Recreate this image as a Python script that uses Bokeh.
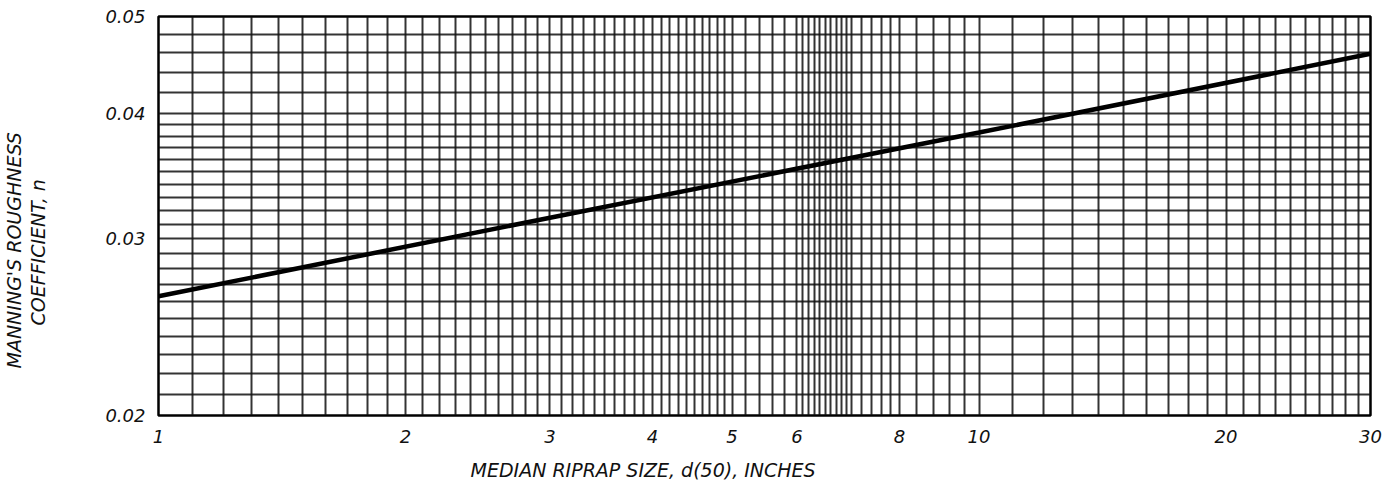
import numpy as np
from bokeh.plotting import figure
from bokeh.models import FixedTicker, Grid, Title, PrintfTickFormatter
from bokeh.embed import file_html
from bokeh.resources import INLINE

# ---- data ----
d50_in = [1, 3, 10, 30]
manning_n = [0.0263, 0.0315, 0.0383, 0.0459]

x_tick_labels = [1, 2, 3, 4, 5, 6, 8, 10, 20, 30]
y_tick_labels = [0.02, 0.03, 0.04, 0.05]

# graph-paper rulings
x_grid = sorted(set(
    list(np.round(np.arange(1.0, 5.0001, 0.1), 2))
    + list(np.round(np.arange(5.0, 6.0001, 0.2), 2))
    + list(np.round(np.arange(6.0, 7.0001, 0.1), 2))
    + list(np.round(np.arange(7.0, 8.0001, 0.2), 2))
    + list(np.round(np.arange(8.0, 10.0001, 0.4), 2))
    + list(np.arange(10, 31, 1).astype(float))
))
y_grid = sorted(set(
    list(np.round(np.arange(0.020, 0.0400001, 0.001), 4))
    + list(np.round(np.arange(0.040, 0.0500001, 0.002), 4))
))

FONT = "DejaVu Sans"
INK = "#111111"

p = figure(width=1395, height=480, x_axis_type="log", y_axis_type="log",
           x_range=(1, 30), y_range=(0.02, 0.05),
           output_backend="svg", toolbar_location=None,
           min_border_left=157, min_border_right=25,
           min_border_top=16, min_border_bottom=65)
p.background_fill_color = "white"
p.border_fill_color = "white"
p.outline_line_color = "black"
p.outline_line_width = 2.5

p.xgrid.visible = False
p.ygrid.visible = False
gx = Grid(dimension=0, ticker=FixedTicker(ticks=x_grid),
          grid_line_color=INK, grid_line_width=2.0, grid_line_alpha=0.85)
gy = Grid(dimension=1, ticker=FixedTicker(ticks=y_grid),
          grid_line_color=INK, grid_line_width=2.0, grid_line_alpha=0.85)
p.add_layout(gx)
p.add_layout(gy)

for ax in (p.xaxis[0], p.yaxis[0]):
    ax.axis_line_color = None
    ax.major_tick_line_color = None
    ax.minor_tick_line_color = None
    ax.major_label_text_font = FONT
    ax.major_label_text_font_style = "italic"
    ax.major_label_text_font_size = "18px"
    ax.major_label_text_color = INK
    # blank spacer label to push the titles outward
    ax.axis_label = " "
    ax.axis_label_text_font_size = "1px"

p.xaxis.ticker = FixedTicker(ticks=x_tick_labels)
p.yaxis.ticker = FixedTicker(ticks=y_tick_labels)
p.xaxis.formatter = PrintfTickFormatter(format="%d")
p.yaxis.formatter = PrintfTickFormatter(format="%.2f")
p.xaxis.major_label_standoff = 8
p.yaxis.major_label_standoff = 7
p.xaxis.axis_label_standoff = 7
p.yaxis.axis_label_standoff = 50

p.line(d50_in, manning_n, line_color="black", line_width=4.5)

# axis titles
TS = dict(text_font=FONT, text_font_style="italic", text_font_size="19px",
          text_color=INK, standoff=0)
tx = Title(text="MEDIAN RIPRAP SIZE, d(50), INCHES", align="left", offset=312, **TS)
p.add_layout(tx, "below")
ty2 = Title(text="COEFFICIENT, n", align="left", offset=90, **TS)
ty1 = Title(text="MANNING'S ROUGHNESS", align="left", offset=47, **TS)
p.add_layout(ty2, "left")
p.add_layout(ty1, "left")

open("out.html", "w").write(file_html(p, INLINE))
